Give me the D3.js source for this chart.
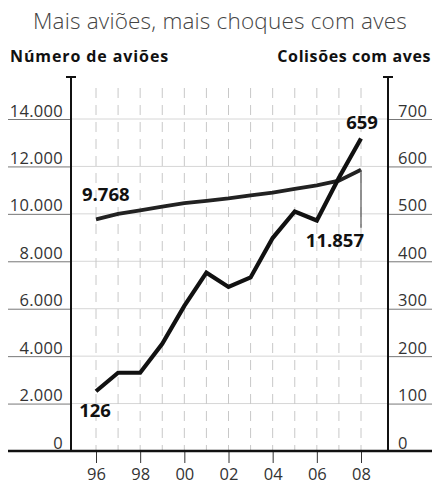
<!DOCTYPE html>
<html><head><meta charset="utf-8">
<script src="https://cdn.jsdelivr.net/npm/d3@7"></script>
<style>body{margin:0;background:#fff} svg{display:block}</style>
</head><body>
<svg id="c" width="433" height="484"></svg>
<script>
const years = [1996,1997,1998,1999,2000,2001,2002,2003,2004,2005,2006,2007,2008];
const planes = [9768,10000,10150,10300,10450,10550,10650,10780,10900,11050,11200,11400,11857];
const birds = [126,165,165,226,306,376,346,366,449,505,486,576,659];
const leftTicks = [0,2000,4000,6000,8000,10000,12000,14000];
const rightTicks = [0,100,200,300,400,500,600,700];
const yearTicks = [1996,1998,2000,2002,2004,2006,2008];
const yearLabels = ["96","98","00","02","04","06","08"];
const title = "Mais aviões, mais choques com aves";
const leftTitle = "Número de aviões";
const rightTitle = "Colisões com aves";

const FONT = "'Open Sans', 'DejaVu Sans', sans-serif";
const loc = d3.formatLocale({decimal:",", thousands:".", grouping:[3], currency:["",""]});
const fmt = loc.format(",");

const svg = d3.select("#c");
const x = d3.scaleLinear().domain([1996,2008]).range([96,361]);
const yL = d3.scaleLinear().domain([0,14000]).range([451,119]);
const yR = d3.scaleLinear().domain([0,700]).range([451,119]);
const axL = 71, axR = 388, axTop = 77;

// title
svg.append("text").attr("x",220).attr("y",29).attr("text-anchor","middle")
  .attr("font-family",FONT).attr("font-weight",300).attr("font-size",22.5).attr("fill","#444")
  .attr("letter-spacing","0.2").text(title);
svg.append("text").attr("x",10).attr("y",62).attr("font-family",FONT).attr("font-weight",700)
  .attr("font-size",16).attr("fill","#111").attr("letter-spacing","0.9").text(leftTitle);
svg.append("text").attr("x",431).attr("y",62).attr("text-anchor","end").attr("font-family",FONT).attr("font-weight",700)
  .attr("font-size",16).attr("fill","#111").attr("letter-spacing","0.6").text(rightTitle);

// grid
const grid = svg.append("g");
grid.selectAll("line.h").data(leftTicks.filter(d=>d>0)).join("line")
  .attr("x1",axL).attr("x2",axR).attr("y1",d=>yL(d)).attr("y2",d=>yL(d))
  .attr("stroke","#d6d6d6").attr("stroke-width",1);
grid.selectAll("line.v").data(years).join("line")
  .attr("x1",d=>x(d)).attr("x2",d=>x(d)).attr("y1",88).attr("y2",451)
  .attr("stroke","#c8c8c8").attr("stroke-width",1).attr("stroke-dasharray","10,7");

// left axis
const gL = svg.append("g").attr("transform",`translate(${axL},0)`)
  .call(d3.axisLeft(yL).tickValues(leftTicks).tickSize(63).tickFormat(fmt));
gL.select(".domain").remove();
gL.selectAll(".tick line").attr("stroke","#777");
gL.selectAll(".tick text").attr("x",-8).attr("dy","-3").attr("font-family",FONT)
  .attr("font-size",16.5).attr("fill","#333").attr("letter-spacing","0.3");

// right axis
const gR = svg.append("g").attr("transform",`translate(${axR},0)`)
  .call(d3.axisRight(yR).tickValues(rightTicks).tickSize(44));
gR.select(".domain").remove();
gR.selectAll(".tick line").attr("stroke","#777");
gR.selectAll(".tick text").attr("x",10).attr("dy","-3").attr("font-family",FONT)
  .attr("font-size",16.5).attr("fill","#333").attr("letter-spacing","0.3");

// x axis
const gX = svg.append("g").attr("transform","translate(0,451)")
  .call(d3.axisBottom(x).tickValues(yearTicks).tickSize(12).tickPadding(5)
  .tickFormat((d,i)=>yearLabels[i]));
gX.select(".domain").remove();
gX.selectAll(".tick line").attr("stroke","#333");
gX.selectAll(".tick text").attr("font-family",FONT).attr("font-size",16.5).attr("fill","#333");

// axis frame lines
svg.append("line").attr("x1",8).attr("x2",432).attr("y1",451).attr("y2",451).attr("stroke","#111").attr("stroke-width",2.5);
[axL,axR].forEach(ax=>{
  svg.append("line").attr("x1",ax).attr("x2",ax).attr("y1",axTop).attr("y2",452).attr("stroke","#111").attr("stroke-width",2);
  svg.append("line").attr("x1",ax-5).attr("x2",ax+5).attr("y1",axTop).attr("y2",axTop).attr("stroke","#111").attr("stroke-width",2);
});

// lines
const lineP = d3.line().x((d,i)=>x(years[i])).y(d=>yL(d));
const lineB = d3.line().x((d,i)=>x(years[i])).y(d=>yR(d));
svg.append("path").attr("d",lineP(planes)).attr("fill","none").attr("stroke","#222").attr("stroke-width",3.8);
svg.append("path").attr("d",lineB(birds)).attr("fill","none").attr("stroke","#111").attr("stroke-width",4.2);

// leader line for last planes value
const lx = x(years[years.length-1]), ly = yL(planes[planes.length-1]);
svg.append("line").attr("x1",lx).attr("x2",lx).attr("y1",ly).attr("y2",ly+58).attr("stroke","#555").attr("stroke-width",1.2);

// labels
const lab = (t,xx,yy,anchor)=>svg.append("text").attr("x",xx).attr("y",yy).attr("text-anchor",anchor)
  .attr("font-family",FONT).attr("font-weight",700).attr("font-size",18.5).attr("fill","#111").text(t);
lab(fmt(planes[0]), x(years[0])-14, yL(planes[0])-18, "start");
lab(fmt(planes[planes.length-1]), lx+3, ly+77, "end");
lab(fmt(birds[0]), x(years[0])-1, yR(birds[0])+26, "middle");
lab(fmt(birds[birds.length-1]), lx+1, yR(birds[birds.length-1])-9, "middle");
</script>
</body></html>
